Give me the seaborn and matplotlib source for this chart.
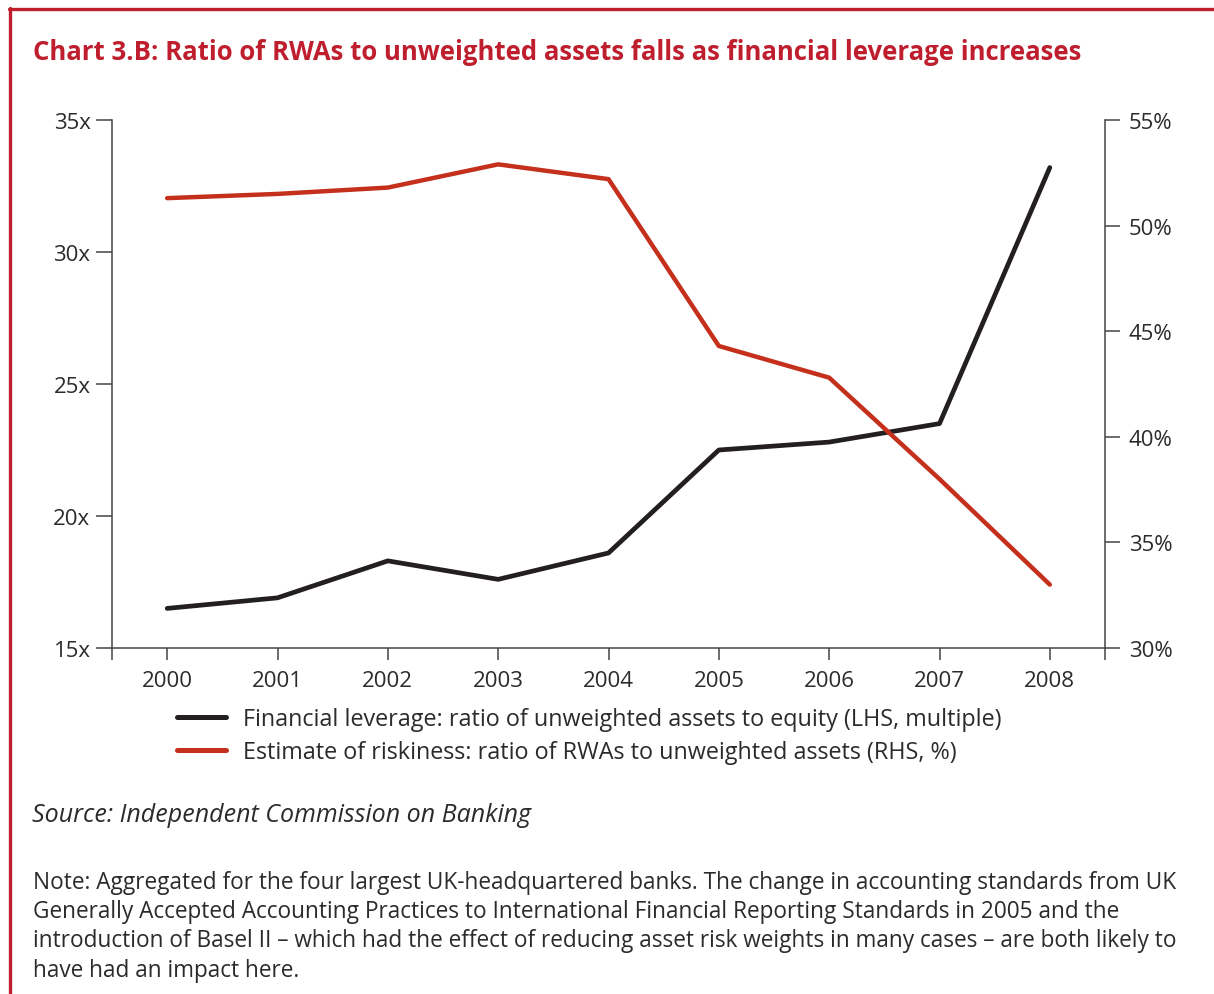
import matplotlib
matplotlib.use("Agg")
import matplotlib.pyplot as plt
from matplotlib.lines import Line2D
import seaborn as sns
import pandas as pd

years = [2000, 2001, 2002, 2003, 2004, 2005, 2006, 2007, 2008]
leverage = [16.5, 16.9, 18.3, 17.6, 18.6, 22.5, 22.8, 23.5, 33.2]
riskiness = [51.3, 51.5, 51.8, 52.9, 52.2, 44.3, 42.8, 38.0, 33.0]
left_ticks = [15, 20, 25, 30, 35]
right_ticks = [30, 35, 40, 45, 50, 55]

title = "Chart 3.B: Ratio of RWAs to unweighted assets falls as financial leverage increases"
label_lev = "Financial leverage: ratio of unweighted assets to equity (LHS, multiple)"
label_risk = "Estimate of riskiness: ratio of RWAs to unweighted assets (RHS, %)"
source = "Source: Independent Commission on Banking"
note = ("Note: Aggregated for the four largest UK-headquartered banks. The change in accounting standards from UK\n"
        "Generally Accepted Accounting Practices to International Financial Reporting Standards in 2005 and the\n"
        "introduction of Basel II \u2013 which had the effect of reducing asset risk weights in many cases \u2013 are both likely to\n"
        "have had an impact here.")

df = pd.DataFrame({"year": years, "leverage": leverage, "riskiness": riskiness})

sns.set_style("white")
plt.rcParams['font.family'] = ['Open Sans', 'DejaVu Sans']

BLACK = "#231f20"
RED = "#c4301c"
FRAME = "#be1e2d"
TXT = "#2b2b2b"
SPINE = "#444444"

W, H = 1214, 995
fig = plt.figure(figsize=(W / 100, H / 100), dpi=100)
fig.patch.set_facecolor("white")

def fx(px):
    return px / W

def fy(py):
    return 1 - py / H

ax = fig.add_axes([fx(112), fy(649), fx(1105) - fx(112), fy(121) - fy(649)])
ax2 = ax.twinx()

sns.lineplot(data=df, x="year", y="leverage", ax=ax, color=BLACK, linewidth=3.4, legend=False)
sns.lineplot(data=df, x="year", y="riskiness", ax=ax2, color=RED, linewidth=3.2, legend=False)

ax.set_xlim(1999.5, 2008.5)
ax.set_ylim(15, 35)
ax2.set_ylim(30, 55)
ax.set_xticks(years)
ax.set_xticklabels([str(y) for y in years])
ax.set_xticks([1999.5, 2008.5], minor=True)
ax.set_yticks(left_ticks)
ax.set_yticklabels([f"{v}x" for v in left_ticks])
ax2.set_yticks(right_ticks)
ax2.set_yticklabels([f"{v}%" for v in right_ticks])
ax.set_xlabel("")
ax.set_ylabel("")
ax2.set_ylabel("")

for a in (ax, ax2):
    a.spines["top"].set_visible(False)
    for s in a.spines.values():
        s.set_color(SPINE)
        s.set_linewidth(1.1)
    a.set_facecolor("none")
ax2.spines["left"].set_visible(False)
ax.spines["right"].set_visible(False)
ax2.spines["bottom"].set_visible(False)

ax.tick_params(axis="y", which="major", direction="out", length=11.5, width=1.1, color=SPINE,
               labelsize=16, labelcolor=TXT, pad=4, left=True)
ax2.tick_params(axis="y", which="major", direction="out", length=11, width=1.1, color=SPINE,
                labelsize=16, labelcolor=TXT, pad=6, right=True)
ax.tick_params(axis="x", which="both", direction="out", length=8.6, width=1.1, color=SPINE,
               labelsize=16, labelcolor=TXT, pad=7.5, bottom=True)

handles = [Line2D([], [], color=BLACK, linewidth=3.6), Line2D([], [], color=RED, linewidth=3.6)]
fig.legend(handles, [label_lev, label_risk], loc="upper left",
           bbox_to_anchor=(fx(177), fy(708)), frameon=False, fontsize=16.8,
           handlelength=2.1, handletextpad=0.72, labelspacing=0.40, labelcolor=TXT,
           borderpad=0, borderaxespad=0)

fig.text(fx(33), fy(53), title, color=FRAME, fontsize=18.5, fontweight="bold", va="center", ha="left")
fig.text(fx(32), fy(816), source, color=TXT, fontsize=18, style="italic", va="center", ha="left")
fig.text(fx(33), fy(871), note, color=TXT, fontsize=16.3, va="top", ha="left", linespacing=1.29)

fig.add_artist(Line2D([fx(9), 1], [fy(10), fy(10)], color=FRAME, linewidth=2.4, transform=fig.transFigure))
fig.add_artist(Line2D([fx(10), fx(10)], [fy(9), 0], color=FRAME, linewidth=2.4, transform=fig.transFigure))

fig.savefig("out.png", dpi=100, facecolor="white")
